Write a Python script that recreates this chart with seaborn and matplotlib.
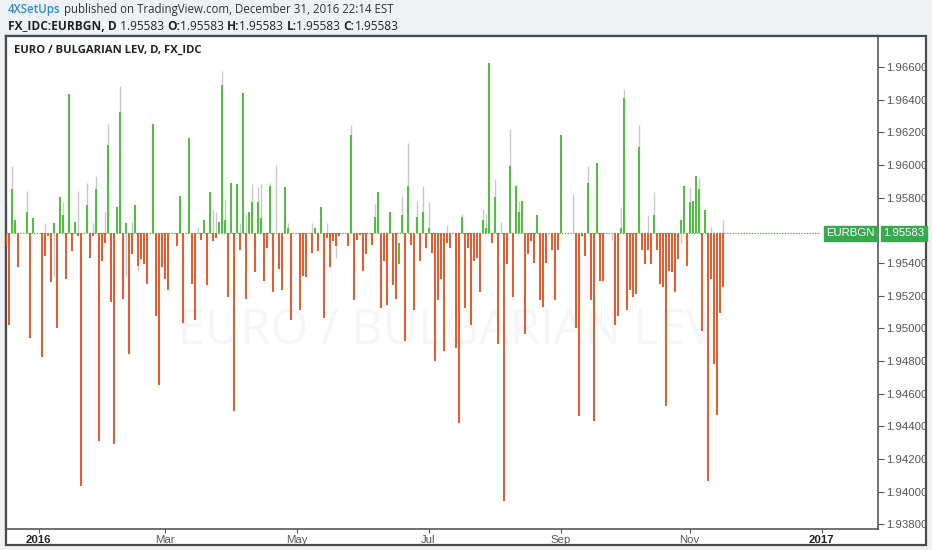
import numpy as np
import pandas as pd
import matplotlib
matplotlib.use("Agg")
import matplotlib.pyplot as plt
import matplotlib.transforms as mtransforms
from matplotlib.patches import Rectangle
import seaborn as sns

# ---------------- data ----------------
symbol = "EURBGN"
base_price = 1.95583          # peg / open of every daily bar
pip = 0.0001
start_date = "2015-12-17"
end_date = "2016-12-30"

# daily close relative to base (pips), bars from 2015-12-17 up to 2016-11-16
close_pips = [
    -8, -56, 27, 8, -21, 0, 0, 13, -64, 9, 0,                       # Dec 2015
    0, -76, -14, -2, -30, 6, -58, 22, 11, -28, 85, -11, 7, -2, -155, 0, 17, -15, -2, 27, -127,
    -17, -6, 54, -42, -129, 16, 74, -40, 6, -74, -13, 17, -20, -16, -19, -31, 0, 67, -51, -93,
    -21, -28, -35, 0, 0, -8, 23, -55, 0, 58, -31, -53, 0, -4, 8, -32, 25, -5, -3, 7, 91,
    8, -39, 31, -109, 30, -10, 86, -40, 13, 19, -24, 19, 9, -29, -9, 29, -36, 0, -22, -35,
    28, 3, -53, 0, 0, -47, -26, -27, 0, -12, 3, -11, 16, -52, -3, -21, -5, -8, -2, 0,
    0, -8, 60, -41, -4, -1, -23, -13, 0, -7, 10, 25, -46, -17, -44, 13, -32, -40, -6, 11,
    -66, 29, -7, -47, 10, -17, 13, -9, 3, -12, -78, -41, -28, -72, -6, -9, 0, -70, -116, 10,
    -46, -9, -56, -17, -15, -36, 8, 3, 104, -6, 22, -68, 0, -164, -19, 41, -39, 29, 13, 20,
    -62, -13, -5, -18, 11, -41, -45, -18, 0, -10, -41, -10, 60, 0, 0, 0, 0, -58, -112, -2,
    -14, 31, -41, -115, 43, -29, -29, 0, 0, 0, -56, -51, 3, 83, -47, -35, -39, -37, 53, -10,
    -19, -10, -19, 11, -10, -31, -33, -106, -23, -24, -36, -16, 8, 29, -20, 19, 20, 35, 27, -60,
    14, -152, -28, -80, -111, -49, -33,
]
# the one bar whose open was not at the base (bar index, open in pips)
odd_open_idx = [131]
odd_open_pips = [-19]

# upper shadows (bar index, high in pips)
high_idx = [0, 2, 7, 13, 19, 24, 27, 29, 30, 33, 34, 38, 42, 64, 69, 70, 72, 73, 78, 80, 82,
            84, 85, 88, 90, 94, 102, 107, 115, 123, 132, 134, 137, 139, 141, 147, 152, 159,
            160, 163, 165, 168, 171, 189, 194, 205, 206, 211, 214, 216, 228, 231, 235, 239]
high_pips = [18, 41, 26, 6, 19, 26, 31, 6, 35, 13, 67, 90, 7, 4, 14, 13, 99, 21, 6, 12, 30,
             28, 30, 31, 42, 6, 6, 6, 66, 18, 23, 55, 20, 29, 19, 5, 12, 15, 12, 33, 7, 64,
             20, 24, 41, 16, 88, 66, 11, 25, 28, 34, 4, 8]
# lower shadows (bar index, low in pips)
low_idx = [16, 40, 44, 110, 202, 225]
low_pips = [-26, -26, -23, -15, -4, -6]

tick_dates = ["2016-01-01", "2016-03-01", "2016-05-02", "2016-07-01",
              "2016-09-01", "2016-11-01", "2017-01-02"]
tick_labels = ["2016", "Mar", "May", "Jul", "Sep", "Nov", "2017"]
tick_bold = [True, False, False, False, False, False, True]
y_ticks = [1.938, 1.940, 1.942, 1.944, 1.946, 1.948, 1.950, 1.952, 1.954,
           1.958, 1.960, 1.962, 1.964, 1.966]

# ---------------- build table ----------------
dates = pd.bdate_range(start_date, end_date)
n = len(dates)
closes = np.zeros(n)
closes[:len(close_pips)] = close_pips
opens = np.zeros(n)
opens[odd_open_idx] = odd_open_pips
df = pd.DataFrame({
    "pos": np.arange(n),
    "open": base_price + opens * pip,
    "close": base_price + closes * pip,
})
df["dir"] = np.where(df["close"] >= df["open"], "up", "down")

ext = pd.bdate_range(start_date, "2017-01-02")
tick_pos = [ext.get_loc(pd.Timestamp(d)) for d in tick_dates]

# ---------------- style ----------------
sns.set_theme(style="white")
GREEN = "#4cc23e"
RED = "#ee5a2e"
WICK = "#c9c9c9"
BOX_GREEN = "#37a94e"
BG = "#eff2f5"
FRAME = "#4a4a4a"
plt.rcParams["font.family"] = ["Liberation Sans", "DejaVu Sans"]

fig = plt.figure(figsize=(9.32, 5.5), dpi=100)
fig.patch.set_facecolor(BG)
W, H = 932.0, 550.0

# outer white panel with frame
fig.patches.append(Rectangle((6 / W, (H - 545) / H), (926 - 6) / W, (545 - 36) / H,
                             transform=fig.transFigure, facecolor="white",
                             edgecolor=FRAME, linewidth=1.6, zorder=-5))

ax = fig.add_axes([6 / W, (H - 528.7) / H, (878 - 6) / W, (528.7 - 36) / H])
ax.set_facecolor("white")
ax.set_zorder(2)

# watermark
ax.text(0.505, 0.40, "EURO / BULGARIAN LEV", transform=ax.transAxes, ha="center",
        va="center", fontsize=35, color="#f6f6f6", family="Open Sans", zorder=0)

# baseline of flat bars
sns.lineplot(x=[0, n - 1], y=[base_price, base_price], ax=ax, color=GREEN,
             linewidth=0.9, linestyle=(0, (1.2, 1.0)), zorder=1)

# shadows
ax.vlines(np.array(high_idx), base_price, base_price + np.array(high_pips) * pip,
          color=WICK, linewidth=1.0, zorder=2)
ax.vlines(np.array(low_idx), base_price, base_price + np.array(low_pips) * pip,
          color=WICK, linewidth=1.0, zorder=2)

# bodies
body = df[df["close"] != df["open"]]
cols = body["dir"].map({"up": GREEN, "down": RED})
ax.bar(body["pos"], body["close"] - body["open"], bottom=body["open"], width=0.72,
       color=cols, linewidth=0, zorder=3)

ax.set_xlim(0.13, 290.8)
ax.set_ylim(1.93774, 1.9679)

# axes styling
ax.yaxis.tick_right()
ax.set_yticks(y_ticks)
ax.set_yticklabels([f"{v:.5f}" for v in y_ticks])
ax.tick_params(axis="y", which="major", direction="out", length=4, width=0.8,
               color="#555555", labelsize=8.2, labelcolor="#555555", pad=2, right=True)
ax.set_xticks(tick_pos)
ax.set_xticklabels(tick_labels)
for lab, b in zip(ax.get_xticklabels(), tick_bold):
    lab.set_fontweight("bold" if b else "normal")
    lab.set_color("#222222" if b else "#555555")
ax.tick_params(axis="x", which="major", direction="out", length=3, width=0.8,
               color="#555555", labelsize=8.2, pad=1.5, bottom=True)
for side in ["left", "top", "right", "bottom"]:
    ax.spines[side].set_visible(True)
    ax.spines[side].set_color(FRAME)
ax.spines["left"].set_linewidth(1.6)
ax.spines["top"].set_linewidth(1.6)
ax.spines["right"].set_linewidth(1.1)
ax.spines["bottom"].set_linewidth(1.1)
ax.grid(False)

# last price tags
trans = mtransforms.blended_transform_factory(ax.transAxes, ax.transData)
ax.text(1.006, base_price, "1.95583", transform=trans, ha="left", va="center",
        fontsize=8.2, color="white", clip_on=False, zorder=6,
        bbox=dict(boxstyle="square,pad=0.22", fc=BOX_GREEN, ec=BOX_GREEN))
ax.text(0.9965, base_price, "EURBGN", transform=trans, ha="right", va="center",
        fontsize=8.2, color="white", zorder=6,
        bbox=dict(boxstyle="square,pad=0.22", fc=BOX_GREEN, ec=BOX_GREEN))

# title inside chart
ax.text(8 / 872, 1 - 14 / 492.7, "EURO / BULGARIAN LEV, D, FX_IDC", transform=ax.transAxes,
        ha="left", va="center", fontsize=8.1, fontweight="bold", color="#222222",
        family=["Open Sans", "DejaVu Sans"])

# header lines
HF = ["Open Sans", "DejaVu Sans"]
t1 = fig.text(8 / W, 1 - 10 / H, "4XSetUps", ha="left", va="center", fontsize=8.3,
              color="#2f8bd0", family=HF, fontweight="semibold")
ax.annotate(" published on TradingView.com, December 31, 2016 22:14 EST",
            xy=(1, 0.5), xycoords=t1, ha="left", va="center", fontsize=8.3,
            color="#333333", family=HF, annotation_clip=False)
t2 = fig.text(8 / W, 1 - 26 / H, "FX_IDC:EURBGN, D", ha="left", va="center",
              fontsize=8.55, color="#222222", family=HF, fontweight="bold")
prev = t2
parts = [(" 1.95583 ", "normal"), ("O:", "bold"), ("1.95583 ", "normal"),
         ("H:", "bold"), ("1.95583 ", "normal"), ("L:", "bold"),
         ("1.95583 ", "normal"), ("C:", "bold"), ("1.95583", "normal")]
for txt, wgt in parts:
    prev = ax.annotate(txt, xy=(1, 0.5), xycoords=prev, ha="left", va="center",
                       fontsize=8.55, color="#222222", family=HF, fontweight=wgt,
                       annotation_clip=False)

fig.savefig("out.png", dpi=100, facecolor=fig.get_facecolor())
